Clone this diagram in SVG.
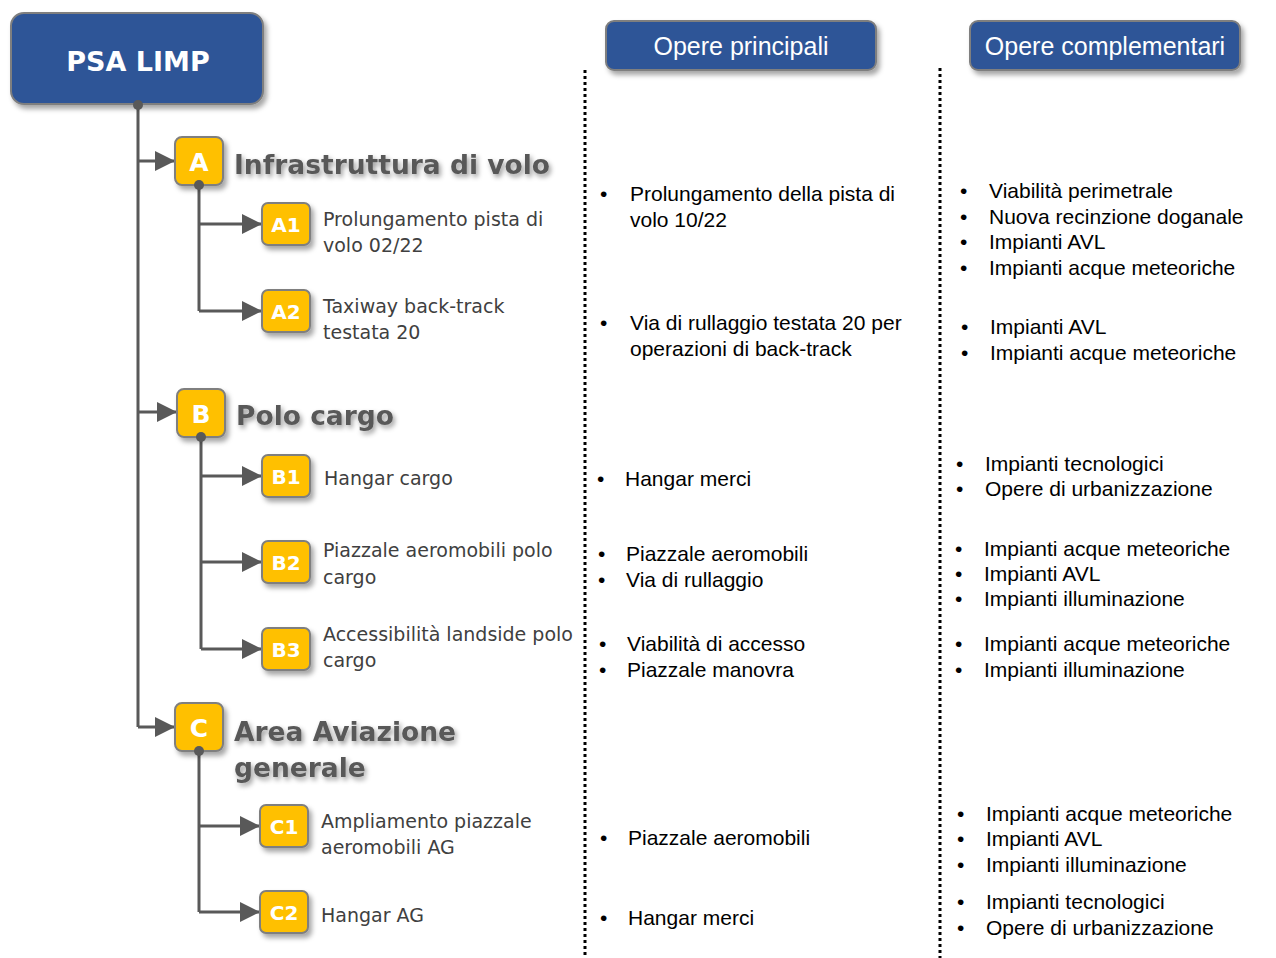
<svg xmlns="http://www.w3.org/2000/svg" width="1276" height="958" viewBox="0 0 1276 958">
  <style>
    .blue { fill: #2F5597; stroke: #7F7F7F; stroke-width: 2; }
    .gold { fill: #FFC000; stroke: #7F7F7F; stroke-width: 2; }
    .code { font-family: "DejaVu Sans", Verdana, sans-serif; font-weight: bold; fill: #FFFFFF; text-anchor: middle; }
    .head { font-family: "DejaVu Sans", Verdana, sans-serif; font-weight: bold; font-size: 26.5px; fill: #595959; }
    .sub { font-family: "DejaVu Sans", Verdana, sans-serif; font-size: 19px; fill: #404040; }
    .col { font-family: "Liberation Sans", Arial, sans-serif; font-size: 21px; fill: #000000; }
    .hdr { font-family: "Liberation Sans", Arial, sans-serif; font-size: 25px; fill: #FFFFFF; text-anchor: middle; }
    .link { fill: none; stroke: #595959; stroke-width: 3; }
    .dot { fill: #595959; }
    .sep { fill: none; stroke: #000000; stroke-width: 3; stroke-dasharray: 3 3; }
  </style>
  <defs>
    <filter id="shadow" x="-20%" y="-20%" width="150%" height="160%">
      <feDropShadow dx="3" dy="4" stdDeviation="2.5" flood-color="#000000" flood-opacity="0.35"/>
    </filter>
    <filter id="textShadow" x="-10%" y="-30%" width="130%" height="170%">
      <feDropShadow dx="2" dy="3" stdDeviation="2.5" flood-color="#000000" flood-opacity="0.4"/>
    </filter>
    <marker id="arrow" viewBox="0 0 10 10" refX="10" refY="5" markerUnits="userSpaceOnUse" markerWidth="22" markerHeight="20" orient="auto">
      <path d="M0,0 L10,5 L0,10 Z" fill="#595959"/>
    </marker>
  </defs>

  <rect width="1276" height="958" fill="#FFFFFF"/>

  <!-- column separators -->
  <g id="separators">
    <line class="sep" x1="585" y1="70" x2="585" y2="958"/>
    <line class="sep" x1="940" y1="68" x2="940" y2="958"/>
  </g>

  <!-- tree connectors -->
  <g id="connectors">
    <path class="link" d="M138,105 V727"/>
    <path class="link" d="M138,161 H175" marker-end="url(#arrow)"/>
    <path class="link" d="M138,412 H177" marker-end="url(#arrow)"/>
    <path class="link" d="M138,727 H175" marker-end="url(#arrow)"/>

    <path class="link" d="M199,185 V311"/>
    <path class="link" d="M199,224 H262" marker-end="url(#arrow)"/>
    <path class="link" d="M199,311 H262" marker-end="url(#arrow)"/>

    <path class="link" d="M201,437 V649"/>
    <path class="link" d="M201,476 H262" marker-end="url(#arrow)"/>
    <path class="link" d="M201,562 H262" marker-end="url(#arrow)"/>
    <path class="link" d="M201,649 H262" marker-end="url(#arrow)"/>

    <path class="link" d="M199,751 V912"/>
    <path class="link" d="M199,826 H260" marker-end="url(#arrow)"/>
    <path class="link" d="M199,912 H260" marker-end="url(#arrow)"/>
  </g>

  <!-- root -->
  <g id="root">
    <rect class="blue" x="11" y="13" width="252" height="91" rx="13" filter="url(#shadow)"/>
    <text class="code" x="138" y="71" font-size="27">PSA LIMP</text>
  </g>

  <!-- column headers -->
  <g id="hdr-principali">
    <rect class="blue" x="606" y="21" width="270" height="49" rx="8" filter="url(#shadow)"/>
    <text class="hdr" x="741" y="55">Opere principali</text>
  </g>
  <g id="hdr-complementari">
    <rect class="blue" x="970" y="21" width="270" height="49" rx="8" filter="url(#shadow)"/>
    <text class="hdr" x="1105" y="55">Opere complementari</text>
  </g>

  <!-- A -->
  <g id="node-A">
    <rect class="gold" x="175" y="137" width="48" height="48" rx="7" filter="url(#shadow)"/>
    <text class="code" x="199" y="171" font-size="25">A</text>
    <text class="head" x="234" y="174" filter="url(#textShadow)">Infrastruttura di volo</text>
  </g>
  <g id="node-A1">
    <rect class="gold" x="262" y="203" width="48" height="42" rx="6" filter="url(#shadow)"/>
    <text class="code" x="286" y="232" font-size="20">A1</text>
    <text class="sub" x="323" y="226">Prolungamento pista di</text>
    <text class="sub" x="323" y="252">volo 02/22</text>
  </g>
  <g id="node-A2">
    <rect class="gold" x="262" y="290" width="48" height="42" rx="6" filter="url(#shadow)"/>
    <text class="code" x="286" y="319" font-size="20">A2</text>
    <text class="sub" x="323" y="313">Taxiway back-track</text>
    <text class="sub" x="323" y="339">testata 20</text>
  </g>

  <!-- B -->
  <g id="node-B">
    <rect class="gold" x="177" y="389" width="48" height="48" rx="7" filter="url(#shadow)"/>
    <text class="code" x="201" y="423" font-size="25">B</text>
    <text class="head" x="236" y="425" filter="url(#textShadow)">Polo cargo</text>
  </g>
  <g id="node-B1">
    <rect class="gold" x="262" y="455" width="48" height="42" rx="6" filter="url(#shadow)"/>
    <text class="code" x="286" y="484" font-size="20">B1</text>
    <text class="sub" x="324" y="485">Hangar cargo</text>
  </g>
  <g id="node-B2">
    <rect class="gold" x="262" y="541" width="48" height="42" rx="6" filter="url(#shadow)"/>
    <text class="code" x="286" y="570" font-size="20">B2</text>
    <text class="sub" x="323" y="557">Piazzale aeromobili polo</text>
    <text class="sub" x="323" y="584">cargo</text>
  </g>
  <g id="node-B3">
    <rect class="gold" x="262" y="628" width="48" height="42" rx="6" filter="url(#shadow)"/>
    <text class="code" x="286" y="657" font-size="20">B3</text>
    <text class="sub" x="323" y="641">Accessibilità landside polo</text>
    <text class="sub" x="323" y="667">cargo</text>
  </g>

  <!-- C -->
  <g id="node-C">
    <rect class="gold" x="175" y="703" width="48" height="48" rx="7" filter="url(#shadow)"/>
    <text class="code" x="199" y="737" font-size="25">C</text>
    <text class="head" x="234" y="741" filter="url(#textShadow)">Area Aviazione</text>
    <text class="head" x="234" y="777" filter="url(#textShadow)">generale</text>
  </g>
  <g id="node-C1">
    <rect class="gold" x="260" y="805" width="48" height="42" rx="6" filter="url(#shadow)"/>
    <text class="code" x="284" y="834" font-size="20">C1</text>
    <text class="sub" x="321" y="828">Ampliamento piazzale</text>
    <text class="sub" x="321" y="854">aeromobili AG</text>
  </g>
  <g id="node-C2">
    <rect class="gold" x="260" y="891" width="48" height="42" rx="6" filter="url(#shadow)"/>
    <text class="code" x="284" y="920" font-size="20">C2</text>
    <text class="sub" x="321" y="922">Hangar AG</text>
  </g>

  <!-- dots on the tree -->
  <g id="junctions">
    <circle class="dot" cx="138" cy="105" r="5"/>
    <circle class="dot" cx="199" cy="185" r="5"/>
    <circle class="dot" cx="201" cy="437" r="5"/>
    <circle class="dot" cx="199" cy="751" r="5"/>
  </g>

  <!-- main works -->
  <g id="principali" class="col">
    <text x="600" y="201">•</text><text x="630" y="201">Prolungamento della pista di</text>
    <text x="630" y="227">volo 10/22</text>
    <text x="600" y="330">•</text><text x="630" y="330">Via di rullaggio testata 20 per</text>
    <text x="630" y="356">operazioni di back-track</text>
    <text x="597" y="486">•</text><text x="625" y="486">Hangar merci</text>
    <text x="598" y="561">•</text><text x="626" y="561">Piazzale aeromobili</text>
    <text x="598" y="587">•</text><text x="626" y="587">Via di rullaggio</text>
    <text x="599" y="651">•</text><text x="627" y="651">Viabilità di accesso</text>
    <text x="599" y="677">•</text><text x="627" y="677">Piazzale manovra</text>
    <text x="600" y="845">•</text><text x="628" y="845">Piazzale aeromobili</text>
    <text x="600" y="925">•</text><text x="628" y="925">Hangar merci</text>
  </g>

  <!-- complementary works -->
  <g id="complementari" class="col">
    <text x="960" y="198">•</text><text x="989" y="198">Viabilità perimetrale</text>
    <text x="960" y="224">•</text><text x="989" y="224">Nuova recinzione doganale</text>
    <text x="960" y="249">•</text><text x="989" y="249">Impianti AVL</text>
    <text x="960" y="275">•</text><text x="989" y="275">Impianti acque meteoriche</text>
    <text x="961" y="334">•</text><text x="990" y="334">Impianti AVL</text>
    <text x="961" y="360">•</text><text x="990" y="360">Impianti acque meteoriche</text>
    <text x="956" y="471">•</text><text x="985" y="471">Impianti tecnologici</text>
    <text x="956" y="496">•</text><text x="985" y="496">Opere di urbanizzazione</text>
    <text x="955" y="556">•</text><text x="984" y="556">Impianti acque meteoriche</text>
    <text x="955" y="581">•</text><text x="984" y="581">Impianti AVL</text>
    <text x="955" y="606">•</text><text x="984" y="606">Impianti illuminazione</text>
    <text x="955" y="651">•</text><text x="984" y="651">Impianti acque meteoriche</text>
    <text x="955" y="677">•</text><text x="984" y="677">Impianti illuminazione</text>
    <text x="957" y="821">•</text><text x="986" y="821">Impianti acque meteoriche</text>
    <text x="957" y="846">•</text><text x="986" y="846">Impianti AVL</text>
    <text x="957" y="872">•</text><text x="986" y="872">Impianti illuminazione</text>
    <text x="957" y="909">•</text><text x="986" y="909">Impianti tecnologici</text>
    <text x="957" y="935">•</text><text x="986" y="935">Opere di urbanizzazione</text>
  </g>
</svg>
